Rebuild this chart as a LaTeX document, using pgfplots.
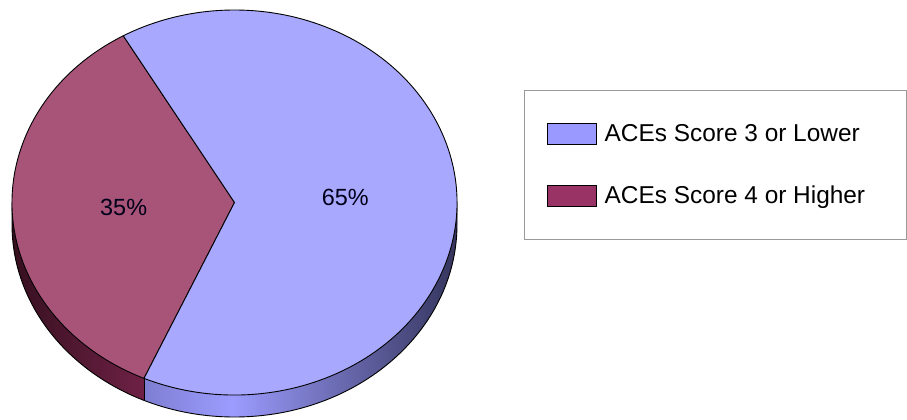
\documentclass[border=0pt]{standalone}
\usepackage{pgfplots}
\pgfplotsset{compat=1.18}
\usepackage{pgfplotstable}
\usepackage{fontspec}
\setmainfont{Liberation Sans}

\definecolor{topA}{HTML}{A8A8FF}
\definecolor{topB}{HTML}{A85479}
\definecolor{swA}{HTML}{9999FF}
\definecolor{swB}{HTML}{993366}
\definecolor{sideAl}{HTML}{7E7ED2}
\definecolor{sideAm}{HTML}{9C9CFF}
\definecolor{sideAr}{HTML}{34345C}
\definecolor{sideBl}{HTML}{36101F}
\definecolor{sideBr}{HTML}{6E2145}
\pgfdeclarehorizontalshading{sideA}{100bp}{color(0bp)=(sideAl); color(25bp)=(sideAl);
  color(39bp)=(sideAm); color(75bp)=(sideAr); color(100bp)=(sideAr)}

% share of respondents
\pgfplotstableread[col sep=comma]{
group,value
ACEs Score 3 or Lower,65
ACEs Score 4 or Higher,35
}\acedata

\begin{document}
\begin{tikzpicture}
\pgfplotstablegetelem{0}{value}\of\acedata\let\valA\pgfplotsretval
\pgfplotstablegetelem{1}{value}\of\acedata\let\valB\pgfplotsretval
\pgfmathsetmacro\startB{120}
\pgfmathsetmacro\endB{\startB+3.6*\valB}
\pgfmathsetmacro\endA{\endB+3.6*\valA}
\pgfmathsetmacro\midB{(\startB+\endB)/2}
\pgfmathsetmacro\midA{(\endB+\endA)/2}
\def\rx{222.5bp}\def\ry{192.5bp}\def\dep{22bp}
\begin{axis}[
    width=907bp, height=420bp, scale only axis,
    xmin=0, xmax=907, ymin=0, ymax=420,
    hide axis, clip=false,
    legend style={at={(axis cs:524,330)}, anchor=north west,
        draw=gray!80, line width=1bp, fill=white,
        inner xsep=22bp, inner ysep=32bp, row sep=39bp,
        font=\fontsize{24.5}{28}\selectfont,
        nodes={inner sep=2bp}, cells={anchor=west},
        /tikz/every odd column/.style={column sep=6bp}},
    legend image code/.code={\draw[#1, line width=1.2bp] (0bp,-10.5bp) rectangle (49bp,10.5bp);},
]
\coordinate (C) at (axis cs:234.5,217.5);
\path (C) ++(180:222.5bp and 192.5bp) coordinate (P180);
\path (C) ++(\startB:222.5bp and 192.5bp) coordinate (PsB);
\path (C) ++(\endB:222.5bp and 192.5bp) coordinate (PeB);
\path (C) ++(\midB:111bp and 96bp) coordinate (LB);
\path (C) ++(\midA:111bp and 96bp) coordinate (LA);
% side walls
\shade[left color=sideBl, right color=sideBr] (P180)
  arc[start angle=180, end angle=\endB, x radius=\rx, y radius=\ry] -- ++(0,-\dep)
  arc[start angle=\endB, end angle=180, x radius=\rx, y radius=\ry] -- cycle;
\shade[shading=sideA] (PeB)
  arc[start angle=\endB, end angle=360, x radius=\rx, y radius=\ry] -- ++(0,-\dep)
  arc[start angle=360, end angle=\endB, x radius=\rx, y radius=\ry] -- cycle;
\draw[line width=0.9bp] (P180) -- ++(0,-\dep)
  arc[start angle=180, end angle=360, x radius=\rx, y radius=\ry] -- ++(0,\dep);
\draw[line width=0.9bp] (PeB) -- ++(0,-\dep);
% top faces
\filldraw[fill=topB, line width=0.9bp] (C) -- (PsB)
  arc[start angle=\startB, end angle=\endB, x radius=\rx, y radius=\ry] -- cycle;
\filldraw[fill=topA, line width=0.9bp] (C) -- (PeB)
  arc[start angle=\endB, end angle=\endA, x radius=\rx, y radius=\ry] -- cycle;
\node[font=\fontsize{23.5}{28}\selectfont, text=black!90!blue] at (LB) {\valB\%};
\node[font=\fontsize{23.5}{28}\selectfont, text=black!90!blue] at (LA) {\valA\%};
\addlegendimage{fill=swA, draw=black}
\addlegendentry{\makebox[278bp][l]{ACEs Score 3 or Lower}}
\addlegendimage{fill=swB, draw=black}
\addlegendentry{\makebox[278bp][l]{ACEs Score 4 or Higher}}
\end{axis}
\pgfresetboundingbox
\path (current axis.south west) rectangle (current axis.north east);
\end{tikzpicture}
\end{document}
